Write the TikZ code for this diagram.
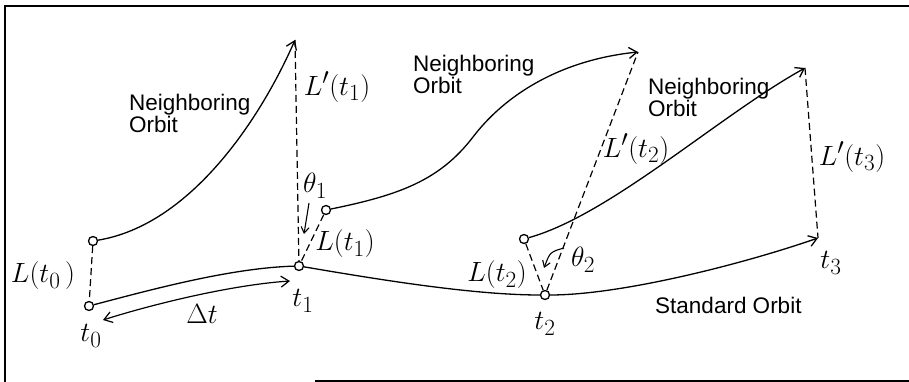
\documentclass[tikz,border=0pt]{standalone}
\usepackage{fontspec}
\newfontfamily\orbitfont{Liberation Sans}
\usetikzlibrary{arrows.meta}
\tikzset{
  orbitline/.style={line width=1.3pt},
  dashline/.style={line width=1.2pt, dash pattern=on 7pt off 4pt},
  dotnode/.style={circle, draw, line width=1.3pt, fill=white, minimum size=9pt, inner sep=0pt},
  mathlbl/.style={inner sep=0pt, font=\fontsize{24.88}{30}\selectfont, scale=1.12, transform shape},
  sanslbl/.style={inner sep=0pt, align=left, font=\orbitfont\fontsize{22.5}{20}\selectfont},
  framel/.style={line width=1.4pt},
  >={Straight Barb[length=8pt,width=11pt]}
}
\begin{document}
\begin{tikzpicture}[x=1pt,y=-1pt]
\useasboundingbox (0,0) rectangle (909,382);
% frame
\draw[framel] (5,382) -- (5,6) -- (909,6);
\draw[framel] (315,381) -- (909,381);

% points
\node[dotnode] (c0) at (89,306) {};
\node[dotnode] (c1) at (299,266) {};
\node[dotnode] (c2) at (545,295) {};
\coordinate (c3) at (818,238);
\node[dotnode] (n0) at (93,241) {};
\node[dotnode] (n1) at (326,210) {};
\node[dotnode] (n2) at (524,239) {};
\coordinate (a1) at (295,40);
\coordinate (a2) at (638,52);
\coordinate (a3) at (805,68);

% dashed connectors (drawn first)
\draw[dashline] (n0) -- (c0);
\draw[dashline] (a1) -- (c1);
\draw[dashline] (n1) -- (c1);
\draw[dashline] (c2) -- (a2);
\draw[dashline] (n2) -- (c2);
\draw[dashline] (a3) -- (c3);

% standard orbit
\draw[orbitline] (c0) .. controls (150,290) and (230,268) .. (c1);
\draw[orbitline] (c1) .. controls (370,278) and (470,295) .. (c2);
\draw[orbitline,->] (c2) .. controls (620,295) and (740,265) .. (c3);

% neighboring orbits
\draw[orbitline,->] (n0) .. controls (190,225) and (260,120) .. (a1);
\draw[orbitline,->] (n1) .. controls (400,195) and (440,180) .. (473,137) .. controls (505,95) and (560,60) .. (a2);
\draw[orbitline,->] (n2) .. controls (610,215) and (720,115) .. (a3);

% delta t arrow
\coordinate (dt0) at (103,320);
\coordinate (dt1) at (290,281);
\draw[line width=1.2pt,<->] (dt0) .. controls (150,305) and (230,285) .. (dt1);

% theta arrows
\coordinate (th1s) at (309,203);
\coordinate (th1e) at (304,234);
\draw[line width=1.1pt,->,>={Straight Barb[length=6pt,width=8pt]}] (th1s) -- (th1e);
\coordinate (th2s) at (564,248);
\coordinate (th2e) at (544,268);
\draw[line width=1.1pt,->,>={Straight Barb[length=6pt,width=8pt]}] (th2s) .. controls (550,252) .. (th2e);

% math labels
\node[mathlbl] (lt0) at (43,276) {$L(t_0\,)$};
\node[mathlbl] (lpt1) at (337,87) {$L'(t_1)$};
\node[mathlbl] (lt1) at (345,244) {$L(t_1)$};
\node[mathlbl] (lpt2) at (636,149) {$L'(t_2)$};
\node[mathlbl] (lt2) at (497,275) {$L(t_2)$};
\node[mathlbl] (lpt3) at (852,157) {$L'(t_3)$};
\node[mathlbl] (tt0) at (91,336) {$t_0$};
\node[mathlbl] (tt1) at (303,301) {$t_1$};
\node[mathlbl] (tt2) at (545,324) {$t_2$};
\node[mathlbl] (tt3) at (831,263) {$t_3$};
\node[mathlbl] (dtl) at (202,314) {$\Delta t$};
\node[mathlbl] (th1) at (315,186) {$\theta_1$};
\node[mathlbl] (th2) at (583,260) {$\theta_2$};

% text labels
\node[sanslbl, anchor=north west] (no1) at (129,94) {Neighboring\\Orbit};
\node[sanslbl, anchor=north west] (no2) at (413,55) {Neighboring\\Orbit};
\node[sanslbl, anchor=north west] (no3) at (648,78) {Neighboring\\Orbit};
\node[sanslbl, anchor=base west] (so) at (655,313) {Standard Orbit};
\end{tikzpicture}
\end{document}
